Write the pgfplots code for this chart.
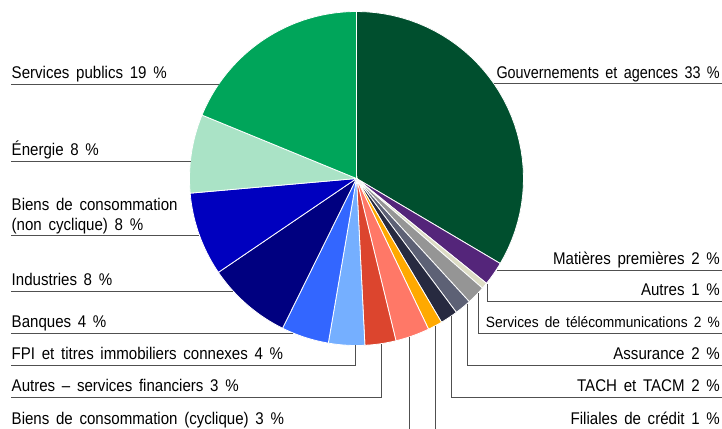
\documentclass[border=0pt]{standalone}
\usepackage{fontspec}
\setmainfont{Liberation Sans}[WordSpace=1.6]
\usepackage{pgfplots}
\usepackage{pgfplotstable}
\pgfplotsset{compat=1.18}

% slice colours, clockwise from 12 o'clock
\definecolor{c0}{RGB}{0,79,46}
\definecolor{c1}{RGB}{84,37,122}
\definecolor{c2}{RGB}{221,220,197}
\definecolor{c3}{RGB}{149,149,149}
\definecolor{c4}{RGB}{93,97,117}
\definecolor{c5}{RGB}{39,42,64}
\definecolor{c6}{RGB}{255,169,0}
\definecolor{c7}{RGB}{255,120,103}
\definecolor{c8}{RGB}{220,69,46}
\definecolor{c9}{RGB}{117,175,255}
\definecolor{c10}{RGB}{51,102,255}
\definecolor{c11}{RGB}{0,0,128}
\definecolor{c12}{RGB}{0,0,191}
\definecolor{c13}{RGB}{170,227,198}
\definecolor{c14}{RGB}{0,165,90}
\definecolor{leader}{RGB}{80,80,80}

% shares in %, same order as the colours
\pgfplotstableread{
share
33.5
2.3
0.6
1.8
1.6
1.7
1.4
3.3
3.0
3.5
4.6
8.2
8.1
7.6
18.8
}\piedata

\newcommand\lt[2][0.89]{\scalebox{#1}[1]{#2}}
\tikzset{lbl/.style={inner sep=0pt, font=\fontsize{17}{20}\selectfont}}

\begin{document}
\begin{tikzpicture}
\begin{axis}[
  name=ax,
  width=722bp, height=429bp, scale only axis,
  xmin=0, xmax=722, ymin=0, ymax=429, y dir=reverse,
  hide axis, clip=false,
]
\pgfplotstablegetrowsof{\piedata}
\pgfmathtruncatemacro\last{\pgfplotsretval-1}
\def\cum{0}
\pgfplotsforeachungrouped \i in {0,...,\last}{%
  \pgfplotstablegetelem{\i}{share}\of\piedata
  \pgfmathsetmacro\ta{3.6*\cum}
  \pgfmathsetmacro\cum{\cum+\pgfplotsretval}
  \pgfmathsetmacro\tb{3.6*\cum}
  \edef\slice{\noexpand\addplot[fill=c\i, draw=white, line width=0.8pt,
      domain=\ta:\tb, samples=40]
    ({356.5+167*sin(x)}, {178.5-167*cos(x)}) -- (356.5,178.5) -- cycle;}
  \slice
}

% leader lines
\draw[leader, line width=0.8pt] (11,84.3) -- (219,84.3);
\draw[leader, line width=0.8pt] (11,161) -- (190.5,161);
\draw[leader, line width=0.8pt] (11,235.7) -- (199,235.7);
\draw[leader, line width=0.8pt] (11,291) -- (233,291);
\draw[leader, line width=0.8pt] (11,333) -- (293,333);
\draw[leader, line width=0.8pt] (11,365) -- (355,365) -- (355,345);
\draw[leader, line width=0.8pt] (11,397) -- (381,397) -- (381,343.5);
\draw[leader, line width=0.8pt] (11,431) -- (409,431) -- (409,337);
\draw[leader, line width=0.8pt] (494,83.3) -- (722,83.3);
\draw[leader, line width=0.8pt] (497,270) -- (722,270);
\draw[leader, line width=0.8pt] (487,284) -- (487,301) -- (722,301);
\draw[leader, line width=0.8pt] (478,293) -- (478,333) -- (722,333);
\draw[leader, line width=0.8pt] (467,303.5) -- (467,365) -- (722,365);
\draw[leader, line width=0.8pt] (451,316) -- (451,397) -- (722,397);
\draw[leader, line width=0.8pt] (435,325.5) -- (435,429.5) -- (722,429.5);

% left labels
\node[lbl, anchor=base west] at (11.5,79) {\lt{Services publics 19 \%}};
\node[lbl, anchor=base west] at (11.5,155.5) {\lt{Énergie 8 \%}};
\node[lbl, anchor=base west] at (11.5,210) {\lt{Biens de consommation}};
\node[lbl, anchor=base west] at (11.5,230) {\lt{(non cyclique) 8 \%}};
\node[lbl, anchor=base west] at (11.5,285.5) {\lt{Industries 8 \%}};
\node[lbl, anchor=base west] at (11.5,327.5) {\lt{Banques 4 \%}};
\node[lbl, anchor=base west] at (11.5,359.5) {\lt{FPI et titres immobiliers connexes 4 \%}};
\node[lbl, anchor=base west] at (11.5,391.5) {\lt{Autres – services financiers 3 \%}};
\node[lbl, anchor=base west] at (11.5,424.5) {\lt{Biens de consommation (cyclique) 3 \%}};

% right labels
\node[lbl, anchor=base east] at (720,78.3) {\lt[0.85]{Gouvernements et agences 33 \%}};
\node[lbl, anchor=base east] at (720,264.5) {\lt{Matières premières 2 \%}};
\node[lbl, anchor=base east] at (720,295.5) {\lt{Autres 1 \%}};
\node[inner sep=0pt, font=\fontsize{15}{18}\selectfont, anchor=base east] at (720,327.5) {\lt[0.92]{Services de télécommunications 2 \%}};
\node[lbl, anchor=base east] at (720,359.5) {\lt{Assurance 2 \%}};
\node[lbl, anchor=base east] at (720,391.5) {\lt{TACH et TACM 2 \%}};
\node[lbl, anchor=base east] at (720,424) {\lt{Filiales de crédit 1 \%}};
\end{axis}
\pgfresetboundingbox
\useasboundingbox (ax.south west) rectangle (ax.north east);
\end{tikzpicture}
\end{document}
